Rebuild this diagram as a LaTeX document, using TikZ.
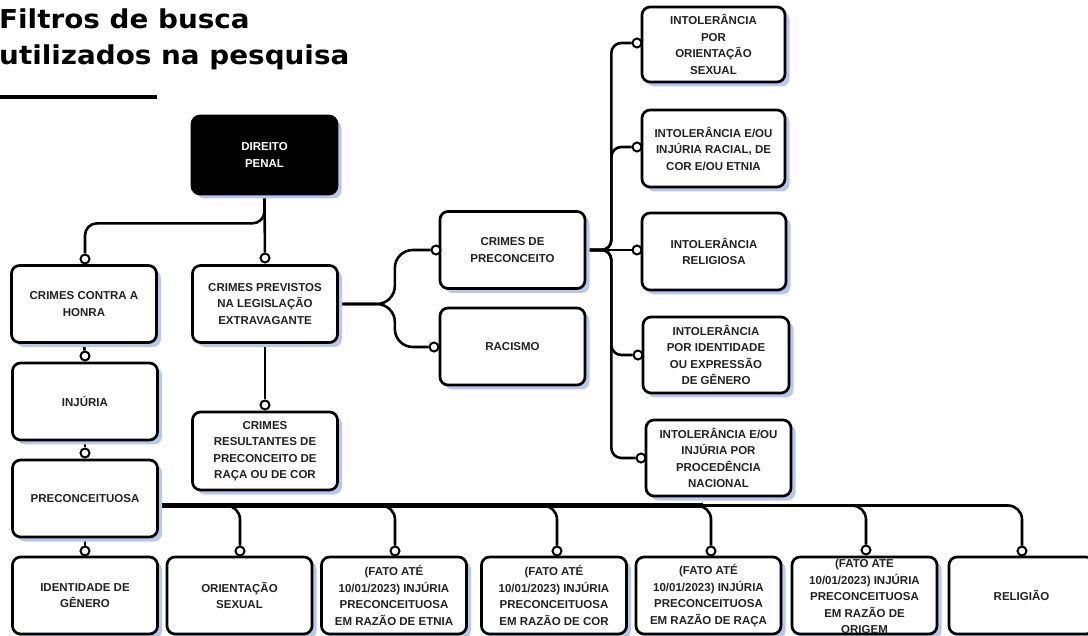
\documentclass[tikz,border=0pt]{standalone}
\usepackage{fontspec}
\setmainfont{Liberation Sans}
\newfontfamily\titlefont{DejaVu Sans}
\usetikzlibrary{shadows,calc}
\definecolor{shadowc}{RGB}{184,200,236}
\definecolor{txt}{RGB}{34,34,34}
\pgfdeclarelayer{paper}
\pgfdeclarelayer{bg}
\pgfsetlayers{paper,bg,main}
\newcommand\ttlline[1]{\scalebox{1.07}[1]{\titlefont\bfseries\fontsize{26}{30}\selectfont #1}}
\begin{document}
\begin{tikzpicture}[x=1pt,y=-1pt,
 box/.style={rectangle, rounded corners=8pt, draw=black, line width=2.7pt, fill=white,
   minimum width=145pt, minimum height=77pt, inner sep=0pt, align=center, text=txt,
   font=\bfseries\fontsize{11.5}{16.5}\selectfont,
   drop shadow={shadow xshift=4.5pt, shadow yshift=-4.5pt, fill=shadowc, opacity=1}},
 dot/.style={circle, draw=black, fill=white, line width=2pt, minimum size=9pt, inner sep=0pt},
 conn/.style={draw=black, line width=2.6pt},
]
\useasboundingbox (0,0) rectangle (1088,636);
\begin{pgfonlayer}{paper}
\fill[white] (0,0) rectangle (1088,636);
\end{pgfonlayer}

% title
\node[anchor=base west, inner sep=0pt] (t1) at (-1,29) {\ttlline{Filtros de busca}};
\node[anchor=base west, inner sep=0pt] (t2) at (-1,65) {\ttlline{utilizados na pesquisa}};
\coordinate (u1) at (0,97);
\coordinate (u2) at (157,97);
\draw[line width=4pt] (u1) -- (u2);

% boxes
\node[box, fill=black, text=white, minimum height=78pt] (dp) at (264.5,155) {DIREITO\\PENAL};
\node[box] (honra) at (84,304) {CRIMES CONTRA A\\HONRA};
\node[box] (prev) at (265,304) {CRIMES PREVISTOS\\NA LEGISLAÇÃO\\EXTRAVAGANTE};
\node[box, minimum height=78pt] (res) at (265,451) {CRIMES\\RESULTANTES DE\\PRECONCEITO DE\\RAÇA OU DE COR};
\node[box] (inj) at (85,401.5) {INJÚRIA};
\node[box] (pre) at (85,498.5) {PRECONCEITUOSA};
\node[box] (cpre) at (512.5,250) {CRIMES DE\\PRECONCEITO};
\node[box] (rac) at (512.5,346.5) {RACISMO};

\node[box, minimum width=143pt, minimum height=75pt] (r1) at (713.5,44.5) {INTOLERÂNCIA\\POR\\ORIENTAÇÃO\\SEXUAL};
\node[box, minimum width=143pt] (r2) at (713.5,148.5) {INTOLERÂNCIA E/OU\\INJÚRIA RACIAL, DE\\COR E/OU ETNIA};
\node[box, minimum width=144pt] (r3) at (714,251.5) {INTOLERÂNCIA\\RELIGIOSA};
\node[box, minimum width=146pt, minimum height=76pt] (r4) at (716,355) {INTOLERÂNCIA\\POR IDENTIDADE\\OU EXPRESSÃO\\DE GÊNERO};
\node[box, minimum height=76pt] (r5) at (718.5,458) {INTOLERÂNCIA E/OU\\INJÚRIA POR\\PROCEDÊNCIA\\NACIONAL};

\node[box] (b1) at (85,595.5) {IDENTIDADE DE\\GÊNERO};
\node[box] (b2) at (239.5,595.5) {ORIENTAÇÃO\\SEXUAL};
\node[box] (b3) at (394,595.5) {(FATO ATÉ\\10/01/2023) INJÚRIA\\PRECONCEITUOSA\\EM RAZÃO DE ETNIA};
\node[box] (b4) at (554,595.5) {(FATO ATÉ\\10/01/2023) INJÚRIA\\PRECONCEITUOSA\\EM RAZÃO DE COR};
\node[box] (b5) at (708.5,595.5) {(FATO ATÉ\\10/01/2023) INJÚRIA\\PRECONCEITUOSA\\EM RAZÃO DE RAÇA};
\node[box] (b6) at (864.5,595.5) {(FATO ATÉ\\10/01/2023) INJÚRIA\\PRECONCEITUOSA\\EM RAZÃO DE\\ORIGEM};
\node[box] (b7) at (1021.5,595.5) {RELIGIÃO};

% dots
\node[dot] (dprev) at (265,258) {};
\node[dot] (dhonra) at (85,259) {};
\node[dot] (dinj) at (85,356) {};
\node[dot] (dpre) at (85,453) {};
\node[dot] (dres) at (265,405) {};
\node[dot] (dcpre) at (436,250) {};
\node[dot] (drac) at (434,347) {};
\node[dot] (dr1) at (637,43) {};
\node[dot] (dr2) at (637,147) {};
\node[dot] (dr3) at (637,250) {};
\node[dot] (dr4) at (638,355) {};
\node[dot] (dr5) at (641,458) {};
\node[dot] (db1) at (85,551) {};
\node[dot] (db2) at (240,551) {};
\node[dot] (db3) at (395,551) {};
\node[dot] (db4) at (557,551) {};
\node[dot] (db5) at (711,551) {};
\node[dot] (db6) at (866,550) {};
\node[dot] (db7) at (1022,551) {};

\coordinate (bus0) at ($(pre.east)+(0,7)$);
\coordinate (hub) at ($(prev.east)+(56,0)$);
\coordinate (rhub) at ($(cpre.east)+(25,0)$);

\begin{pgfonlayer}{bg}
\draw[conn] (dp.south) -- (dprev);
\draw[conn, rounded corners=12pt] (dp.south) -- ($(dp.south)+(0,28)$) -| (dhonra);
\draw[conn] (honra.south) -- (dinj);
\draw[conn] (inj.south) -- (dpre);
\draw[conn] (pre.south) -- (db1);
\draw[conn] (prev.south) -- (dres);
\draw[conn, rounded corners=18pt] (prev.east) -- (hub) |- (dcpre);
\draw[conn, rounded corners=18pt] (prev.east) -- (hub) |- (drac);
\draw[conn, rounded corners=10pt] (cpre.east) -- (rhub) |- (dr1);
\draw[conn, rounded corners=10pt] (cpre.east) -- (rhub) |- (dr2);
\draw[conn] (cpre.east) -- (dr3);
\draw[conn, rounded corners=10pt] (cpre.east) -- (rhub) |- (dr4);
\draw[conn, rounded corners=10pt] (cpre.east) -- (rhub) |- (dr5);
\draw[line width=4.6pt] (bus0) -- ($(bus0 -| db5)+(-8,0)$);
\draw[line width=3.6pt] (bus0) -- ($(bus0 -| db6)+(-20,0)$);
\draw[conn, rounded corners=14pt] (bus0) -| (db2);
\draw[conn, rounded corners=14pt] (bus0) -| (db3);
\draw[conn, rounded corners=14pt] (bus0) -| (db4);
\draw[conn, rounded corners=14pt] (bus0) -| (db5);
\draw[conn, rounded corners=14pt] (bus0) -| (db6);
\draw[conn, rounded corners=14pt] (bus0) -| (db7);
\end{pgfonlayer}
\end{tikzpicture}
\end{document}
